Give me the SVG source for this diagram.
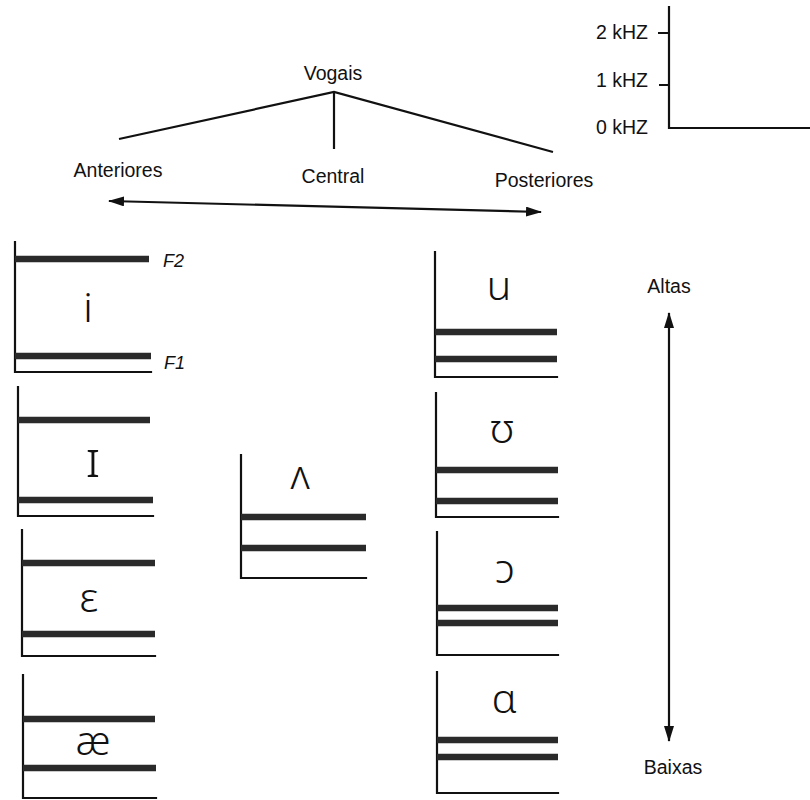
<svg xmlns="http://www.w3.org/2000/svg" width="810" height="800" viewBox="0 0 810 800">
<style>
.lbl{font-family:"Liberation Sans",Arial,sans-serif;font-size:19.5px;fill:#111}
.fl{font-family:"Liberation Sans",Arial,sans-serif;font-size:18px;font-style:italic;fill:#111}
.v{font-family:"Noto Sans","DejaVu Sans",sans-serif;font-size:41px;font-weight:300;fill:#111;text-anchor:middle}
.ax{stroke:#111;stroke-width:2.2;fill:none;stroke-linecap:square}
.bar{stroke:#2a2a2a;stroke-width:6.5;fill:none}
.ln{stroke:#111;stroke-width:2.2;fill:none}
</style>
<defs>
<marker id="ah" viewBox="0 0 16 10" refX="15" refY="5" markerWidth="16" markerHeight="10" markerUnits="userSpaceOnUse" orient="auto-start-reverse">
<path d="M0,0 L16,5 L0,10 Z" fill="#111"/>
</marker>
</defs>

<g id="scale">
<path class="ax" d="M669,7 V128 H810"/>
<path class="ln" d="M658,33 H669 M659,85 H669"/>
<text class="lbl" x="596" y="39">2 kHZ</text>
<text class="lbl" x="596" y="87">1 kHZ</text>
<text class="lbl" x="596" y="134">0 kHZ</text>
</g>

<g id="vogais"><text class="lbl" x="333" y="80" text-anchor="middle">Vogais</text></g>
<g id="anteriores"><text class="lbl" x="118" y="177" text-anchor="middle">Anteriores</text></g>
<g id="central"><text class="lbl" x="333" y="183" text-anchor="middle">Central</text></g>
<g id="posteriores"><text class="lbl" x="544" y="187" text-anchor="middle">Posteriores</text></g>
<g id="altas"><text class="lbl" x="669" y="293" text-anchor="middle">Altas</text></g>
<g id="baixas"><text class="lbl" x="673" y="774" text-anchor="middle">Baixas</text></g>

<g id="connectors">
<path class="ln" d="M119,139 L334,92 L553,152"/>
<path class="ln" d="M334,92 V149"/>
<line class="ln" x1="109" y1="201" x2="541" y2="212" marker-start="url(#ah)" marker-end="url(#ah)"/>
<line class="ln" x1="669" y1="313" x2="669" y2="741" marker-start="url(#ah)" marker-end="url(#ah)"/>
</g>

<g id="vowel-i">
<path class="ax" d="M15,242 V372 H151"/>
<line class="bar" x1="15" y1="259" x2="149" y2="259"/>
<line class="bar" x1="15" y1="356" x2="151" y2="356"/>
<text class="v" x="88" y="322">i</text>
<text class="fl" x="163" y="267">F2</text>
<text class="fl" x="164" y="369">F1</text>
</g>

<g id="vowel-I">
<path class="ax" d="M18,387 V516 H153"/>
<line class="bar" x1="18" y1="420" x2="150" y2="420"/>
<line class="bar" x1="18" y1="500" x2="153" y2="500"/>
<text class="v" x="93" y="477" style="font-size:50px">ɪ</text>
</g>

<g id="vowel-eps">
<path class="ax" d="M22,530 V656 H155"/>
<line class="bar" x1="22" y1="563" x2="155" y2="563"/>
<line class="bar" x1="22" y1="634" x2="155" y2="634"/>
<text class="v" x="89" y="612">ɛ</text>
</g>

<g id="vowel-ae">
<path class="ax" d="M23,675 V798 H156"/>
<line class="bar" x1="23" y1="719" x2="155" y2="719"/>
<line class="bar" x1="23" y1="768" x2="156" y2="768"/>
<text class="v" x="93" y="755">æ</text>
</g>

<g id="vowel-wedge">
<path class="ax" d="M241,455 V578 H366"/>
<line class="bar" x1="241" y1="517" x2="366" y2="517"/>
<line class="bar" x1="241" y1="548" x2="366" y2="548"/>
<text class="v" x="300" y="489">ʌ</text>
</g>

<g id="vowel-u">
<path class="ax" d="M435,252 V377 H557"/>
<line class="bar" x1="435" y1="332" x2="557" y2="332"/>
<line class="bar" x1="435" y1="359" x2="557" y2="359"/>
<text class="v" x="499" y="300">u</text>
</g>

<g id="vowel-upsilon">
<path class="ax" d="M436,393 V517 H558"/>
<line class="bar" x1="436" y1="470" x2="558" y2="470"/>
<line class="bar" x1="436" y1="501" x2="558" y2="501"/>
<text class="v" x="502" y="443">ʊ</text>
</g>

<g id="vowel-open-o">
<path class="ax" d="M437,532 V655 H558"/>
<line class="bar" x1="437" y1="608" x2="558" y2="608"/>
<line class="bar" x1="437" y1="623" x2="558" y2="623"/>
<text class="v" x="505" y="583">ɔ</text>
</g>

<g id="vowel-alpha">
<path class="ax" d="M437,672 V793 H558"/>
<line class="bar" x1="437" y1="740" x2="558" y2="740"/>
<line class="bar" x1="437" y1="757" x2="558" y2="757"/>
<text class="v" x="504" y="713">ɑ</text>
</g>
</svg>
